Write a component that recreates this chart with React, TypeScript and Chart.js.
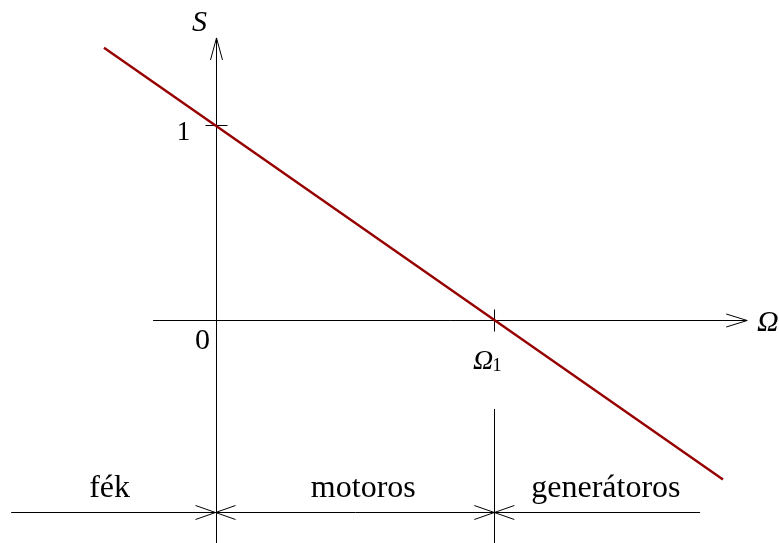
import { useEffect, useRef } from 'react';
import { Chart, registerables } from 'chart.js';

Chart.register(...registerables);

// Slip–speed characteristic: S = 1 - Ω/Ω1
const omega = [-0.4, 0, 1, 1.82];
const slip = [1.4, 1, 0, -0.82];

// Operating regions along the speed axis
const regionNames = ['fék', 'motoros', 'generátoros'];
const regionCenters = [-0.38, 0.53, 1.4];
const regionBounds = [0, 1];

// Axis extents (data units)
const X_MIN = -0.773;
const X_MAX = 2.021;
const Y_MIN = -1.147;
const Y_MAX = 1.645;

const SERIF = '"Liberation Serif", "Times New Roman", serif';

const diagramPlugin = {
  id: 'diagram',
  beforeDatasetsDraw(chart: any) {
    const { ctx } = chart;
    const xs = chart.scales.x;
    const ys = chart.scales.y;
    const px = (v: number) => xs.getPixelForValue(v);
    const py = (v: number) => ys.getPixelForValue(v);
    const cx = (v: number) => Math.round(px(v)) + 0.5;
    const cy = (v: number) => Math.round(py(v)) + 0.5;

    ctx.save();
    ctx.strokeStyle = '#000';
    ctx.lineWidth = 1;

    const line = (x1: number, y1: number, x2: number, y2: number) => {
      ctx.beginPath();
      ctx.moveTo(x1, y1);
      ctx.lineTo(x2, y2);
      ctx.stroke();
    };

    // horizontal Ω axis with open arrow
    const ax0 = cy(0);
    const tipX = px(1.907);
    line(px(-0.224), ax0, tipX, ax0);
    line(tipX - 21, ax0 - 6.5, tipX, ax0);
    line(tipX - 21, ax0 + 6.5, tipX, ax0);

    // vertical S axis with open arrow
    const ay0 = cx(0);
    const tipY = py(1.45);
    line(ay0, tipY, ay0, py(Y_MIN));
    line(ay0 - 6, tipY + 22, ay0, tipY);
    line(ay0 + 6, tipY + 22, ay0, tipY);

    // ticks at S = 1 and Ω = Ω1
    line(ay0 - 11, cy(1), ay0 + 11, cy(1));
    line(cx(1), ax0 - 11, cx(1), ax0 + 11);

    // region strip
    const stripY = cy(-0.987);
    line(px(-0.733), stripY, px(1.738), stripY);
    line(cx(1), py(-0.458), cx(1), py(Y_MIN));
    regionBounds.forEach((b) => {
      const bx = px(b);
      line(bx - 20, stripY - 7, bx + 20, stripY + 7);
      line(bx - 20, stripY + 7, bx + 20, stripY - 7);
    });

    // texts
    ctx.fillStyle = '#000';
    ctx.textBaseline = 'alphabetic';
    ctx.textAlign = 'center';
    ctx.font = `32px ${SERIF}`;
    regionNames.forEach((name, i) => {
      ctx.fillText(name, px(regionCenters[i]), stripY - 16);
    });

    ctx.font = `30px ${SERIF}`;
    ctx.fillText('0', px(0) - 13, ax0 + 28);
    ctx.font = `27px ${SERIF}`;
    ctx.fillText('1', px(0) - 32, cy(1) + 14);

    ctx.font = `italic 30px ${SERIF}`;
    ctx.fillText('S', px(0) - 16, 31);

    ctx.textAlign = 'left';
    ctx.fillText('Ω', 757, ax0 + 10);

    ctx.font = `italic 28px ${SERIF}`;
    ctx.textAlign = 'right';
    const o1x = px(1) - 1;
    ctx.fillText('Ω', o1x, ax0 + 48);
    ctx.font = `19px ${SERIF}`;
    ctx.textAlign = 'left';
    ctx.fillText('1', o1x - 1, ax0 + 50);

    ctx.restore();
  },
};

export default function App() {
  const canvasRef = useRef<HTMLCanvasElement | null>(null);

  useEffect(() => {
    const canvas = canvasRef.current;
    if (!canvas) return;
    const chart = new Chart(canvas, {
      type: 'scatter',
      data: {
        datasets: [
          {
            data: omega.map((o, i) => ({ x: o, y: slip[i] })),
            showLine: true,
            borderColor: '#960000',
            borderWidth: 2.4,
            pointRadius: 0,
            fill: false,
          },
        ],
      },
      options: {
        animation: false,
        responsive: false,
        events: [],
        layout: { padding: 0 },
        plugins: { legend: { display: false }, tooltip: { enabled: false } },
        scales: {
          x: { type: 'linear', min: X_MIN, max: X_MAX, display: false },
          y: { type: 'linear', min: Y_MIN, max: Y_MAX, display: false },
        },
      },
      plugins: [diagramPlugin],
    });
    return () => chart.destroy();
  }, []);

  return (
    <div style={{ position: 'fixed', left: 0, top: 0, width: 779, height: 543, background: '#fff' }}>
      <canvas ref={canvasRef} width={779} height={543} style={{ display: 'block' }} />
    </div>
  );
}
